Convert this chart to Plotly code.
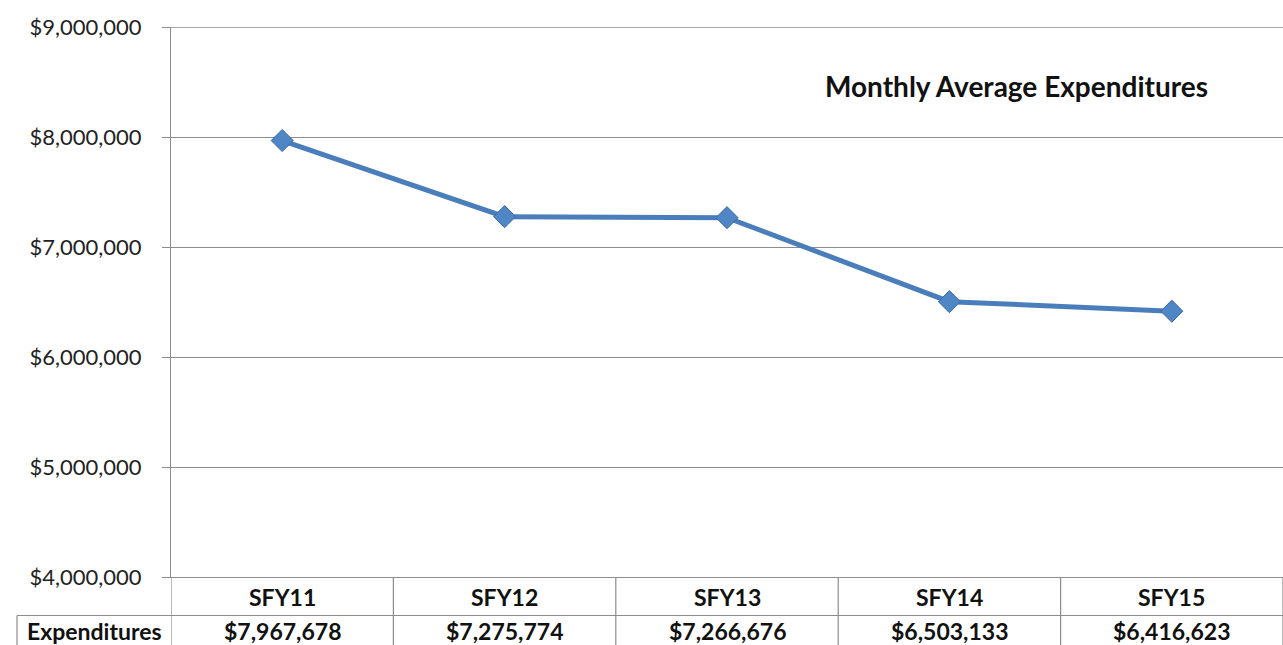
import plotly.graph_objects as go

categories = ["SFY11", "SFY12", "SFY13", "SFY14", "SFY15"]
expenditures = [7967678, 7275774, 7266676, 6503133, 6416623]
row_label = "Expenditures"
chart_title = "Monthly Average Expenditures"
y_ticks = [4000000, 5000000, 6000000, 7000000, 8000000, 9000000]

W, H = 1283, 645
ML, MR, MT, MB = 171, 0, 27, 68
PW = W - ML - MR
PH = H - MT - MB

def px_to_py(py):
    return (H - MB - py) / PH

def px_to_px(px):
    return (px - ML) / PW

FONT = "Lato, Calibri, Carlito, sans-serif"
GRID = "#8c8c8c"
TXT = "#111111"

fig = go.Figure()
fig.add_trace(go.Scatter(
    x=categories, y=expenditures, mode="lines+markers",
    line=dict(color="#4a7ebb", width=5),
    marker=dict(symbol="diamond", size=17, color="#4f86c6",
                line=dict(color="#3b6aa6", width=1)),
    hoverinfo="x+y", showlegend=False,
))

shapes = []
shapes.append(dict(type="line", xref="paper", yref="y", x0=0, x1=1,
                   y0=y_ticks[-1], y1=y_ticks[-1], line=dict(color="#555555", width=1.2)))
y_row_sep = px_to_py(615.5)
y_bottom = px_to_py(645)
for i in range(len(categories) + 1):
    xv = i - 0.5
    shapes.append(dict(type="line", xref="x", yref="paper", x0=xv, x1=xv,
                       y0=0, y1=y_bottom, line=dict(color=GRID, width=1.2)))
shapes.append(dict(type="line", xref="paper", yref="paper", x0=px_to_px(17), x1=1,
                   y0=y_row_sep, y1=y_row_sep, line=dict(color=GRID, width=1.2)))
shapes.append(dict(type="line", xref="paper", yref="paper", x0=px_to_px(17), x1=px_to_px(17),
                   y0=y_row_sep, y1=y_bottom, line=dict(color=GRID, width=1.2)))

annotations = []
for c, v in zip(categories, expenditures):
    annotations.append(dict(x=c, xref="x", y=px_to_py(597), yref="paper", text=f"<b>{c}</b>",
                            showarrow=False, font=dict(family=FONT, size=23, color=TXT),
                            xanchor="center", yanchor="middle"))
    annotations.append(dict(x=c, xref="x", y=px_to_py(631), yref="paper", text=f"<b>${v:,}</b>",
                            showarrow=False, font=dict(family=FONT, size=23, color=TXT),
                            xanchor="center", yanchor="middle"))
annotations.append(dict(x=px_to_px(94), xref="paper", y=px_to_py(631), yref="paper",
                        text=f"<b>{row_label}</b>", showarrow=False,
                        font=dict(family=FONT, size=23, color=TXT),
                        xanchor="center", yanchor="middle"))
annotations.append(dict(x=px_to_px(1016), xref="paper", y=px_to_py(86), yref="paper",
                        text=f"<b>{chart_title}</b>", showarrow=False,
                        font=dict(family=FONT, size=28, color=TXT),
                        xanchor="center", yanchor="middle"))

fig.update_layout(
    width=W, height=H,
    margin=dict(l=ML, r=MR, t=MT, b=MB, autoexpand=False),
    paper_bgcolor="white", plot_bgcolor="white",
    shapes=shapes, annotations=annotations,
    xaxis=dict(type="category", range=[-0.5, 4.5], showticklabels=False,
               showgrid=False, zeroline=False, showline=True, linecolor=GRID,
               linewidth=1.2, ticks=""),
    yaxis=dict(range=[y_ticks[0], y_ticks[-1]], tickvals=y_ticks,
               ticktext=[f"${t:,}" for t in y_ticks],
               tickfont=dict(family=FONT, size=22, color="#222222"),
               showgrid=True, gridcolor=GRID, gridwidth=1.2,
               showline=True, linecolor=GRID, linewidth=1.2,
               ticks="outside", ticklen=8, tickcolor=GRID, tickwidth=1.2,
               ticklabelstandoff=16, zeroline=False),
)
fig.write_html("out.html", config={"displayModeBar": False},
               post_script="document.body.style.margin='0px';document.body.style.overflow='hidden';")
